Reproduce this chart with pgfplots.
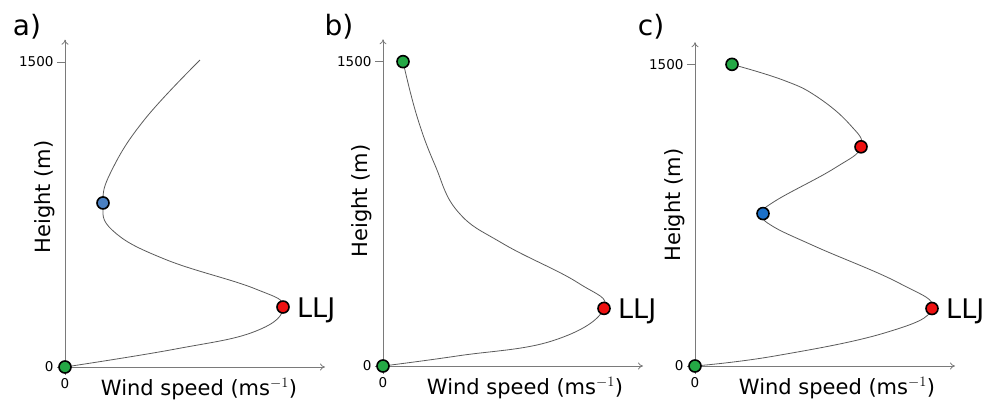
\documentclass[border=0pt]{standalone}
\usepackage{pgfplots}
\pgfplotsset{compat=1.18}
\usetikzlibrary{arrows.meta}
\usepackage{fontspec}
\setmainfont{DejaVu Sans}
\definecolor{cGreen}{HTML}{24A845}
\definecolor{cRed}{HTML}{EE1111}
\definecolor{cBlueA}{HTML}{4A80C2}
\definecolor{cBlueC}{HTML}{1B70C8}
\definecolor{cAxis}{HTML}{7A7A7A}
\definecolor{cCurve}{HTML}{5A5A5A}

\pgfplotsset{
  profile/.style={
    x=1pt, anchor=origin,
    xmin=0, xmax=260, ymin=0, ymax=1610,
    axis lines=left,
    axis line style={cAxis, line width=0.8pt, -{To[length=5pt,width=7pt]}},
    ytick={0,1500}, xtick={0},
    tick align=outside, major tick length=8pt,
    tick style={cAxis, line width=0.8pt},
    tick label style={font=\fontsize{13.5}{15}\selectfont},
    /pgf/number format/assume math mode=true,
    /pgf/number format/1000 sep={},
    clip=false,
  },
  curve/.style={cCurve, line width=0.8pt, smooth, tension=0.72, no marks},
  dot/.style={only marks, mark=*, mark size=6pt, mark options={draw=black, line width=1.6pt, fill=#1}},
}
\newcommand{\labfont}{\fontsize{21}{24}\selectfont}
\newcommand{\jetfont}{\fontsize{27}{30}\selectfont}

\begin{document}
\begin{tikzpicture}
\useasboundingbox (0,0) rectangle (992pt,400pt);

% panel a
\begin{axis}[profile, y=0.2033pt, at={(65pt,33pt)}]
\addplot[curve] coordinates {(0,0) (110,88) (190,175) (218,295) (190,385) (100,530) (48,670) (38,807) (47,970) (80,1220) (135,1510)};
\addplot[dot=cGreen] coordinates {(0,0)};
\addplot[dot=cRed] coordinates {(218,295)};
\addplot[dot=cBlueA] coordinates {(38,807)};
\node[anchor=base west, font=\jetfont, inner sep=0pt] at ([xshift=14pt, yshift=-10pt]axis cs:218,295) {LLJ};
\node[anchor=base, font=\labfont] at ([yshift=-28pt]axis cs:134,0) {Wind speed (ms$^{-1}$)};
\node[rotate=90, font=\labfont] at ([xshift=-20pt]axis cs:0,836) {Height (m)};
\end{axis}
\node[font=\fontsize{28}{32}\selectfont] at (27pt,373pt) {a)};

% panel b
\begin{axis}[profile, y=0.2029pt, at={(383pt,34pt)}]
\addplot[curve] coordinates {(0,0) (75,50) (170,125) (221,284) (195,410) (120,603) (75,760) (52,990) (34,1230) (20,1500)};
\addplot[dot=cGreen] coordinates {(0,0) (20,1500)};
\addplot[dot=cRed] coordinates {(221,284)};
\node[anchor=base west, font=\jetfont, inner sep=0pt] at ([xshift=14pt, yshift=-10pt]axis cs:221,284) {LLJ};
\node[anchor=base, font=\labfont] at ([yshift=-28pt]axis cs:142,0) {Wind speed (ms$^{-1}$)};
\node[rotate=90, font=\labfont] at ([xshift=-21pt]axis cs:0,813) {Height (m)};
\end{axis}
\node[font=\fontsize{28}{32}\selectfont] at (339pt,373pt) {b)};

% panel c
\begin{axis}[profile, y=0.2011pt, at={(695pt,34pt)}]
\addplot[curve] coordinates {(0,0) (80,50) (190,165) (237,286) (205,410) (120,595) (76,700) (68,758) (80,820) (140,985) (166,1090) (155,1200) (122,1339) (88,1422) (37,1500)};
\addplot[dot=cGreen] coordinates {(0,0) (37,1500)};
\addplot[dot=cRed] coordinates {(237,286) (166,1090)};
\addplot[dot=cBlueC] coordinates {(68,758)};
\node[anchor=base west, font=\jetfont, inner sep=0pt] at ([xshift=14pt, yshift=-10pt]axis cs:237,286) {LLJ};
\node[anchor=base, font=\labfont] at ([yshift=-28pt]axis cs:142,0) {Wind speed (ms$^{-1}$)};
\node[rotate=90, font=\labfont] at ([xshift=-20pt]axis cs:0,800) {Height (m)};
\end{axis}
\node[font=\fontsize{28}{32}\selectfont] at (651pt,373pt) {c)};

\end{tikzpicture}
\end{document}
